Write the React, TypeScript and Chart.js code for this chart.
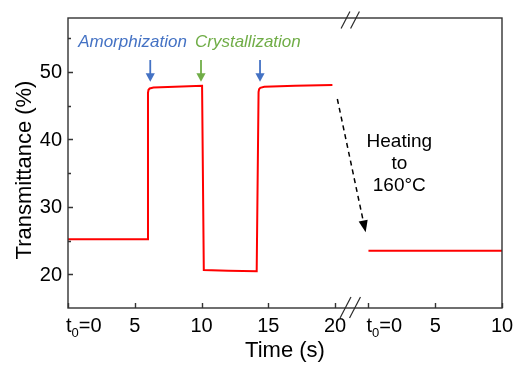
import React, { useEffect, useRef } from 'react';
import { Chart, registerables } from 'chart.js';

Chart.register(...registerables);

const FONT = '"Liberation Sans", Arial, Helvetica, sans-serif';

// Before heating: time (s) and transmittance (%)
const timeBefore = [0, 3, 5.94, 5.99, 6.03, 6.12, 6.4, 8, 10.04, 10.17, 12, 14.13, 14.27, 14.31, 14.4, 14.7, 17, 19.8];
const transBefore = [25.19, 25.2, 25.2, 46.9, 47.35, 47.55, 47.68, 47.8, 47.96, 20.62, 20.52, 20.46, 47.0, 47.45, 47.65, 47.8, 47.95, 48.07];

// After heating to 160°C: time (s) from new t0 and transmittance (%)
const timeAfter = [0, 5, 10];
const transAfter = [23.5, 23.48, 23.5];

// Axis ticks
const leftTickValues = [0, 5, 10, 15, 20];
const leftTickLabels = ['t₀=0', '5', '10', '15', '20'];
const rightTickValues = [0, 5, 10];
const rightTickLabels = ['t₀=0', '5', '10'];
const yMajorTicks = [20, 30, 40, 50];
const yMajorLabels = ['20', '30', '40', '50'];
const yMinorTicks = [25, 35, 45, 55];

// Annotation arrows (time on first segment, colour)
const markerTimes = [6.16, 9.96, 14.38];
const markerColors = ['#4472C4', '#70AD47', '#4472C4'];
const phaseLabels = ['Amorphization', 'Crystallization'];
const phaseLabelTimes = [4.83, 13.47];
const phaseLabelColors = ['#4472C4', '#70AD47'];
const heatingLines = ['Heating', 'to', '160°C'];
const heatingLineValues = [38.92, 35.61, 32.31];

const SEGMENT2_OFFSET = 22.5; // axis position of t0 of second segment
const X_MAX = 32.5;
const Y_MIN = 15;
const Y_MAX = 58;

const decorPlugin = {
  id: 'decor',
  afterDraw(chart: any) {
    const { ctx, chartArea } = chart;
    const { left, right, top, bottom } = chartArea;
    const xs = chart.scales.x;
    const ys = chart.scales.y;
    const px = (v: number) => xs.getPixelForValue(v);
    const py = (v: number) => ys.getPixelForValue(v);
    ctx.save();

    // frame
    ctx.strokeStyle = '#333333';
    ctx.lineWidth = 1.4;
    ctx.strokeRect(left, top, right - left, bottom - top);

    // y ticks
    ctx.beginPath();
    yMajorTicks.forEach((v) => {
      const yy = Math.round(py(v)) + 0.5;
      ctx.moveTo(left, yy);
      ctx.lineTo(left + 5, yy);
    });
    yMinorTicks.forEach((v) => {
      const yy = Math.round(py(v)) + 0.5;
      ctx.moveTo(left, yy);
      ctx.lineTo(left + 3, yy);
    });
    // x ticks
    const xTickPos: number[] = [];
    leftTickValues.forEach((v) => xTickPos.push(px(v)));
    rightTickValues.forEach((v) => xTickPos.push(px(v + SEGMENT2_OFFSET)));
    xTickPos.forEach((xx) => {
      const x0 = Math.round(xx) + 0.5;
      ctx.moveTo(x0, bottom);
      ctx.lineTo(x0, bottom - 5);
    });
    ctx.stroke();

    // break marks
    const drawBreak = (cy: number, h: number) => {
      ctx.save();
      ctx.strokeStyle = '#2a2a2a';
      ctx.lineWidth = 1.2;
      [345.5, 355].forEach((cx) => {
        ctx.beginPath();
        ctx.moveTo(cx - h * 0.26, cy + h / 2);
        ctx.lineTo(cx + h * 0.26, cy - h / 2);
        ctx.stroke();
      });
      ctx.restore();
    };
    drawBreak(top + 2, 17);
    drawBreak(bottom - 0.5, 21);

    // y tick labels
    ctx.fillStyle = '#000';
    ctx.font = `20px ${FONT}`;
    ctx.textAlign = 'right';
    ctx.textBaseline = 'middle';
    yMajorTicks.forEach((v, i) => ctx.fillText(yMajorLabels[i], left - 6, py(v) + 1));

    // x tick labels
    const drawXLabel = (label: string, xx: number) => {
      const base = 331.5;
      ctx.textBaseline = 'alphabetic';
      if (label.indexOf('₀') >= 0) {
        const [pre, post] = label.split('₀');
        let cx = xx - 2;
        ctx.textAlign = 'left';
        ctx.font = `20px ${FONT}`;
        ctx.fillText(pre, cx, base);
        cx += ctx.measureText(pre).width;
        ctx.font = `13px ${FONT}`;
        ctx.fillText('0', cx, base + 5);
        cx += ctx.measureText('0').width;
        ctx.font = `20px ${FONT}`;
        ctx.fillText(post, cx, base);
      } else {
        ctx.textAlign = 'center';
        ctx.font = `20px ${FONT}`;
        ctx.fillText(label, xx, base);
      }
    };
    leftTickValues.forEach((v, i) => drawXLabel(leftTickLabels[i], px(v)));
    rightTickValues.forEach((v, i) => drawXLabel(rightTickLabels[i], px(v + SEGMENT2_OFFSET)));

    // axis titles
    ctx.font = `22px ${FONT}`;
    ctx.textAlign = 'center';
    ctx.textBaseline = 'alphabetic';
    ctx.fillText('Time (s)', (left + right) / 2, 357);
    ctx.save();
    ctx.translate(30.5, 170);
    ctx.rotate(-Math.PI / 2);
    ctx.fillText('Transmittance (%)', 0, 0);
    ctx.restore();

    // phase labels
    ctx.font = `italic 17px ${FONT}`;
    phaseLabels.forEach((t, i) => {
      ctx.fillStyle = phaseLabelColors[i];
      ctx.fillText(t, px(phaseLabelTimes[i]), py(53.77));
    });

    // marker arrows
    markerTimes.forEach((t, i) => {
      const xx = px(t);
      const yTop = py(51.77);
      const yTip = py(48.55);
      ctx.strokeStyle = markerColors[i];
      ctx.fillStyle = markerColors[i];
      ctx.lineWidth = 1.8;
      ctx.beginPath();
      ctx.moveTo(xx, yTop);
      ctx.lineTo(xx, yTip - 6);
      ctx.stroke();
      ctx.beginPath();
      ctx.moveTo(xx - 4.6, yTip - 8.5);
      ctx.lineTo(xx + 4.6, yTip - 8.5);
      ctx.lineTo(xx, yTip);
      ctx.closePath();
      ctx.fill();
    });

    // dashed heating arrow
    const sx = px(20.17), sy = py(45.99);
    const tx = px(22.29), ty = py(26.22);
    const ang = Math.atan2(ty - sy, tx - sx);
    const headLen = 12, headHalf = 4.6;
    const bx = tx - headLen * Math.cos(ang), by = ty - headLen * Math.sin(ang);
    ctx.strokeStyle = '#000';
    ctx.lineWidth = 1.5;
    ctx.setLineDash([5, 4]);
    ctx.beginPath();
    ctx.moveTo(sx, sy);
    ctx.lineTo(bx, by);
    ctx.stroke();
    ctx.setLineDash([]);
    ctx.fillStyle = '#000';
    ctx.beginPath();
    ctx.moveTo(tx, ty);
    ctx.lineTo(bx + headHalf * Math.sin(ang), by - headHalf * Math.cos(ang));
    ctx.lineTo(bx - headHalf * Math.sin(ang), by + headHalf * Math.cos(ang));
    ctx.closePath();
    ctx.fill();

    // heating text
    ctx.font = `19px ${FONT}`;
    ctx.textAlign = 'center';
    heatingLines.forEach((t, i) => ctx.fillText(t, px(24.81), py(heatingLineValues[i])));

    ctx.restore();
  },
};

export default function App() {
  const ref = useRef<HTMLCanvasElement | null>(null);
  useEffect(() => {
    if (!ref.current) return;
    const before = timeBefore.map((t, i) => ({ x: t, y: transBefore[i] }));
    const after = timeAfter.map((t, i) => ({ x: t + SEGMENT2_OFFSET, y: transAfter[i] }));
    const chart = new Chart(ref.current, {
      type: 'line',
      data: {
        datasets: [
          { data: before, borderColor: '#ff0000', borderWidth: 2, pointRadius: 0, tension: 0, fill: false },
          { data: after, borderColor: '#ff0000', borderWidth: 2, pointRadius: 0, tension: 0, fill: false },
        ],
      },
      options: {
        animation: false,
        responsive: false,
        maintainAspectRatio: false,
        events: [],
        layout: { padding: { left: 68, right: 12, top: 18, bottom: 59 } },
        plugins: { legend: { display: false }, tooltip: { enabled: false }, title: { display: false } },
        scales: {
          x: { type: 'linear', min: 0, max: X_MAX, display: false },
          y: { type: 'linear', min: Y_MIN, max: Y_MAX, display: false },
        },
      },
      plugins: [decorPlugin],
    });
    return () => chart.destroy();
  }, []);
  return (
    <div style={{ position: 'absolute', left: 0, top: 0, width: 514, height: 367, background: '#fff' }}>
      <canvas ref={ref} width={514} height={367} style={{ width: 514, height: 367 }} />
    </div>
  );
}
